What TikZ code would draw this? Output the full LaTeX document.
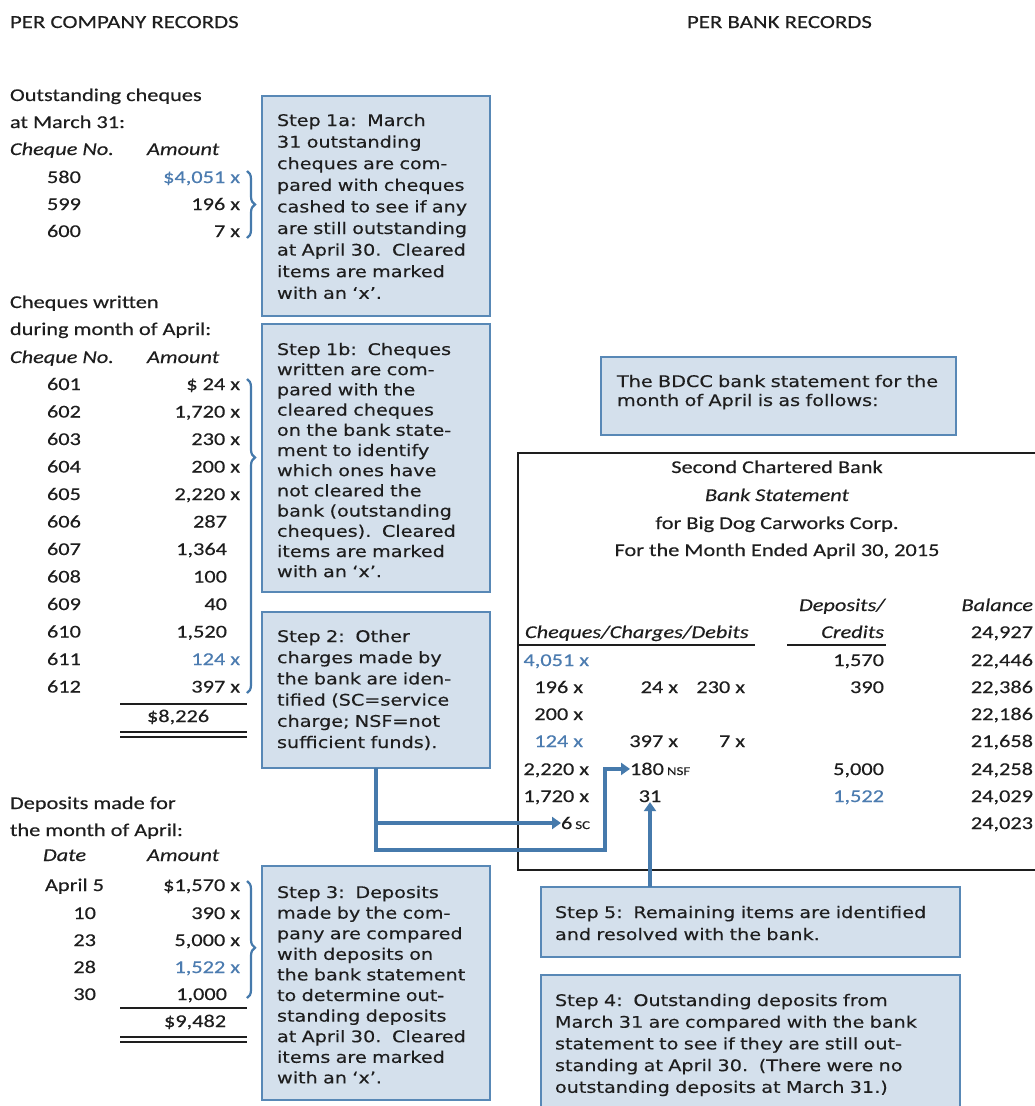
\documentclass[tikz,border=0pt]{standalone}
\usepackage{fontspec}
\setmainfont{Carlito}[FakeStretch=1.24, FakeBold=0.3]
\newfontfamily\stepfont{DejaVu Sans}[FakeStretch=1.2, FakeBold=0.25]
\usetikzlibrary{arrows.meta,decorations.pathreplacing}

\definecolor{ink}{RGB}{30,30,30}
\definecolor{acct}{RGB}{76,124,176}
\definecolor{boxfill}{RGB}{212,224,236}
\definecolor{boxline}{RGB}{88,136,182}
\definecolor{flow}{RGB}{70,122,172}

\begin{document}
\begin{tikzpicture}[x=1pt,y=-1pt,
  every node/.style={inner sep=0pt, outer sep=0pt, text=ink, font=\fontsize{18}{22}\selectfont},
  lt/.style={anchor=base west},
  rt/.style={anchor=base east},
  ct/.style={anchor=base},
  it/.style={font=\fontsize{18}{22}\selectfont\itshape},
  blu/.style={text=acct},
  stepbox/.style={draw=boxline, fill=boxfill, line width=2pt, anchor=north west},
  steptext/.style n args={2}{anchor=base west, text width=#1, align=left,
      font=\stepfont\fontsize{16}{#2}\selectfont},
  cbrace/.style={draw=flow, line width=2.2pt, decorate,
      decoration={brace, amplitude=8pt, aspect=#1}},
  conn/.style={draw=flow, line width=3.2pt, -{Triangle[length=9pt,width=12pt]}},
  tline/.style={draw=ink, line width=1.3pt},
]
\useasboundingbox (0,0) rectangle (1035,1106);
\clip (0,0) rectangle (1035,1106);
\fill[white] (0,0) rectangle (1035,1106);

% ---------- column headings ----------
\node[lt, font=\fontsize{18.4}{22}\selectfont] (hco) at (10,28) {PER COMPANY RECORDS};
\node[lt, font=\fontsize{18.4}{22}\selectfont] (hbk) at (687,28) {PER BANK RECORDS};

% ---------- outstanding cheques at March 31 ----------
\node[lt] (oc1) at (10,101) {Outstanding cheques};
\node[lt] (oc2) at (10,128) {at March 31:};
\node[lt, it] (och1) at (10,155) {Cheque No.};
\node[lt, it] (och2) at (147,155) {Amount};
\node[lt] (c580) at (47,183) {580};
\node[rt, blu] (a580) at (240,183) {\$4,051 x};
\node[lt] (c599) at (47,210) {599};
\node[rt] (a599) at (240,210) {196 x};
\node[lt] (c600) at (47,237) {600};
\node[rt] (a600) at (240,237) {7 x};
\draw[cbrace=0.5] (247,171) -- (247,238);

% ---------- cheques written in April ----------
\node[lt] (cw1) at (10,308) {Cheques written};
\node[lt] (cw2) at (10,335) {during month of April:};
\node[lt, it] (cwh1) at (10,363) {Cheque No.};
\node[lt, it] (cwh2) at (147,363) {Amount};
\node[lt] (c601) at (47,390) {601};   \node[rt] (a601) at (240,390) {\$ 24 x};
\node[lt] (c602) at (47,417.5) {602}; \node[rt] (a602) at (240,417.5) {1,720 x};
\node[lt] (c603) at (47,445) {603};   \node[rt] (a603) at (240,445) {230 x};
\node[lt] (c604) at (47,472.5) {604}; \node[rt] (a604) at (240,472.5) {200 x};
\node[lt] (c605) at (47,500) {605};   \node[rt] (a605) at (240,500) {2,220 x};
\node[lt] (c606) at (47,527.5) {606}; \node[rt] (a606) at (227,527.5) {287};
\node[lt] (c607) at (47,555) {607};   \node[rt] (a607) at (227,555) {1,364};
\node[lt] (c608) at (47,582.5) {608}; \node[rt] (a608) at (227,582.5) {100};
\node[lt] (c609) at (47,610) {609};   \node[rt] (a609) at (227,610) {40};
\node[lt] (c610) at (47,637.5) {610}; \node[rt] (a610) at (227,637.5) {1,520};
\node[lt] (c611) at (47,665) {611};   \node[rt, blu] (a611) at (240,665) {124 x};
\node[lt] (c612) at (47,692.5) {612}; \node[rt] (a612) at (240,692.5) {397 x};
\draw[tline] (120,704) -- (247,704);
\node[lt] (tot1) at (147,722) {\$8,226};
\draw[tline] (120,732) -- (247,732);
\draw[tline] (120,737) -- (247,737);
\draw[cbrace=0.25] (247,379) -- (247,693);

% ---------- deposits in April ----------
\node[lt] (dm1) at (10,809) {Deposits made for};
\node[lt] (dm2) at (10,836) {the month of April:};
\node[lt, it] (dmh1) at (43,861) {Date};
\node[lt, it] (dmh2) at (147,861) {Amount};
\node[lt] (d05) at (45,891) {April 5};  \node[rt] (v05) at (240,891) {\$1,570 x};
\node[rt] (d10) at (96,919) {10};       \node[rt] (v10) at (240,919) {390 x};
\node[rt] (d23) at (96,946) {23};       \node[rt] (v23) at (240,946) {5,000 x};
\node[rt] (d28) at (96,973) {28};       \node[rt, blu] (v28) at (240,973) {1,522 x};
\node[rt] (d30) at (96,1000) {30};      \node[rt] (v30) at (227,1000) {1,000};
\draw[tline] (120,1008) -- (247,1008);
\node[lt] (tot2) at (164,1027) {\$9,482};
\draw[tline] (120,1037) -- (247,1037);
\draw[tline] (120,1042) -- (247,1042);
\draw[cbrace=0.57] (247,881) -- (247,998);

% ---------- step boxes, company side ----------
\node[stepbox, minimum width=228pt, minimum height=220pt] (s1a) at (262,96) {};
\node[steptext={205pt}{21.6pt}] (t1a) at (277,126)
  {Step 1a:\ \ March\\31 outstanding\\cheques are com-\\pared with cheques\\cashed to see if any\\are still outstanding\\at April 30.\ \ Cleared\\items are marked\\with an ‘x’.};

\node[stepbox, minimum width=228pt, minimum height=268pt] (s1b) at (262,324) {};
\node[steptext={205pt}{20.2pt}] (t1b) at (277,355)
  {Step 1b:\ \ Cheques\\written are com-\\pared with the\\cleared cheques\\on the bank state-\\ment to identify\\which ones have\\not cleared the\\bank (outstanding\\cheques).\ \ Cleared\\items are marked\\with an ‘x’.};

\node[stepbox, minimum width=228pt, minimum height=156pt] (s2) at (262,612) {};
\node[steptext={205pt}{21.2pt}] (t2) at (277,642)
  {Step 2:\ \ Other\\charges made by\\the bank are iden-\\tified (SC=service\\charge; NSF=not\\sufficient funds).};

\node[stepbox, minimum width=228pt, minimum height=234pt] (s3) at (262,866) {};
\node[steptext={205pt}{20.6pt}] (t3) at (277,898)
  {Step 3:\ \ Deposits\\made by the com-\\pany are compared\\with deposits on\\the bank statement\\to determine out-\\standing deposits\\at April 30.\ \ Cleared\\items are marked\\with an ‘x’.};

% ---------- bank side ----------
\node[stepbox, minimum width=355pt, minimum height=78pt] (sinfo) at (601,357) {};
\node[steptext={330pt}{19pt}] (tinfo) at (617,387)
  {The BDCC bank statement for the\\month of April is as follows:};

\node[draw=ink, line width=1.4pt, minimum width=540pt, minimum height=417pt, anchor=north west] (stmt) at (518,453) {};
\node[ct] (bk1) at (777,473) {Second Chartered Bank};
\node[ct, it] (bk2) at (777,501) {Bank Statement};
\node[ct] (bk3) at (777,529) {for Big Dog Carworks Corp.};
\node[ct] (bk4) at (777,556) {For the Month Ended April 30, 2015};

\node[rt, it] (hdep) at (885,611) {Deposits/};
\node[rt, it] (hbal) at (1033,611) {Balance};
\node[lt, it] (hchq) at (525,638) {Cheques/Charges/Debits};
\node[rt, it] (hcrd) at (884,638) {Credits};
\node[rt] (b0) at (1033,638) {24,927};
\draw[tline] (519,645) -- (755,645);
\draw[tline] (787,645) -- (886,645);

% rows of the statement
\node[rt, blu] (r1a) at (589,666) {4,051 x};
\node[rt] (r1d) at (884,666) {1,570};
\node[rt] (b1) at (1033,666) {22,446};

\node[rt] (r2a) at (583,693) {196 x};
\node[rt] (r2b) at (678,693) {24 x};
\node[rt] (r2c) at (745,693) {230 x};
\node[rt] (r2d) at (884,693) {390};
\node[rt] (b2) at (1033,693) {22,386};

\node[rt] (r3a) at (583,720) {200 x};
\node[rt] (b3) at (1033,720) {22,186};

\node[rt, blu] (r4a) at (583,747) {124 x};
\node[rt] (r4b) at (678,747) {397 x};
\node[rt] (r4c) at (745,747) {7 x};
\node[rt] (b4) at (1033,747) {21,658};

\node[rt] (r5a) at (589,775) {2,220 x};
\node[lt] (nsf) at (630,775) {180\,{\fontsize{12}{14}\selectfont NSF}};
\node[rt] (r5d) at (884,775) {5,000};
\node[rt] (b5) at (1033,775) {24,258};

\node[rt] (r6a) at (589,802) {1,720 x};
\node[ct] (n31) at (650,802) {31};
\node[rt, blu] (r6d) at (884,802) {1,522};
\node[rt] (b6) at (1033,802) {24,029};

\node[lt] (sc) at (561,829) {6\,{\fontsize{12}{14}\selectfont SC}};
\node[rt] (b7) at (1033,829) {24,023};

\node[stepbox, minimum width=419pt, minimum height=70pt] (s5) at (541,887) {};
\node[steptext={390pt}{22pt}] (t5) at (555,918)
  {Step 5:\ \ Remaining items are identified\\and resolved with the bank.};

\node[stepbox, minimum width=419pt, minimum height=160pt] (s4) at (541,975) {};
\node[steptext={390pt}{21.7pt}] (t4) at (555,1006)
  {Step 4:\ \ Outstanding deposits from\\March 31 are compared with the bank\\statement to see if they are still out-\\standing at April 30.\ \ (There were no\\outstanding deposits at March 31.)};

% ---------- connectors ----------
\coordinate (bend) at (605,850);
\coordinate (split) at (s2.south |- sc.west);
\draw[conn] (s2.south) |- (bend) |- (nsf.west);
\draw[conn] (split) -- (sc.west);
\draw[conn] (s5.north -| n31.south) -- (n31.south);
\end{tikzpicture}
\end{document}
